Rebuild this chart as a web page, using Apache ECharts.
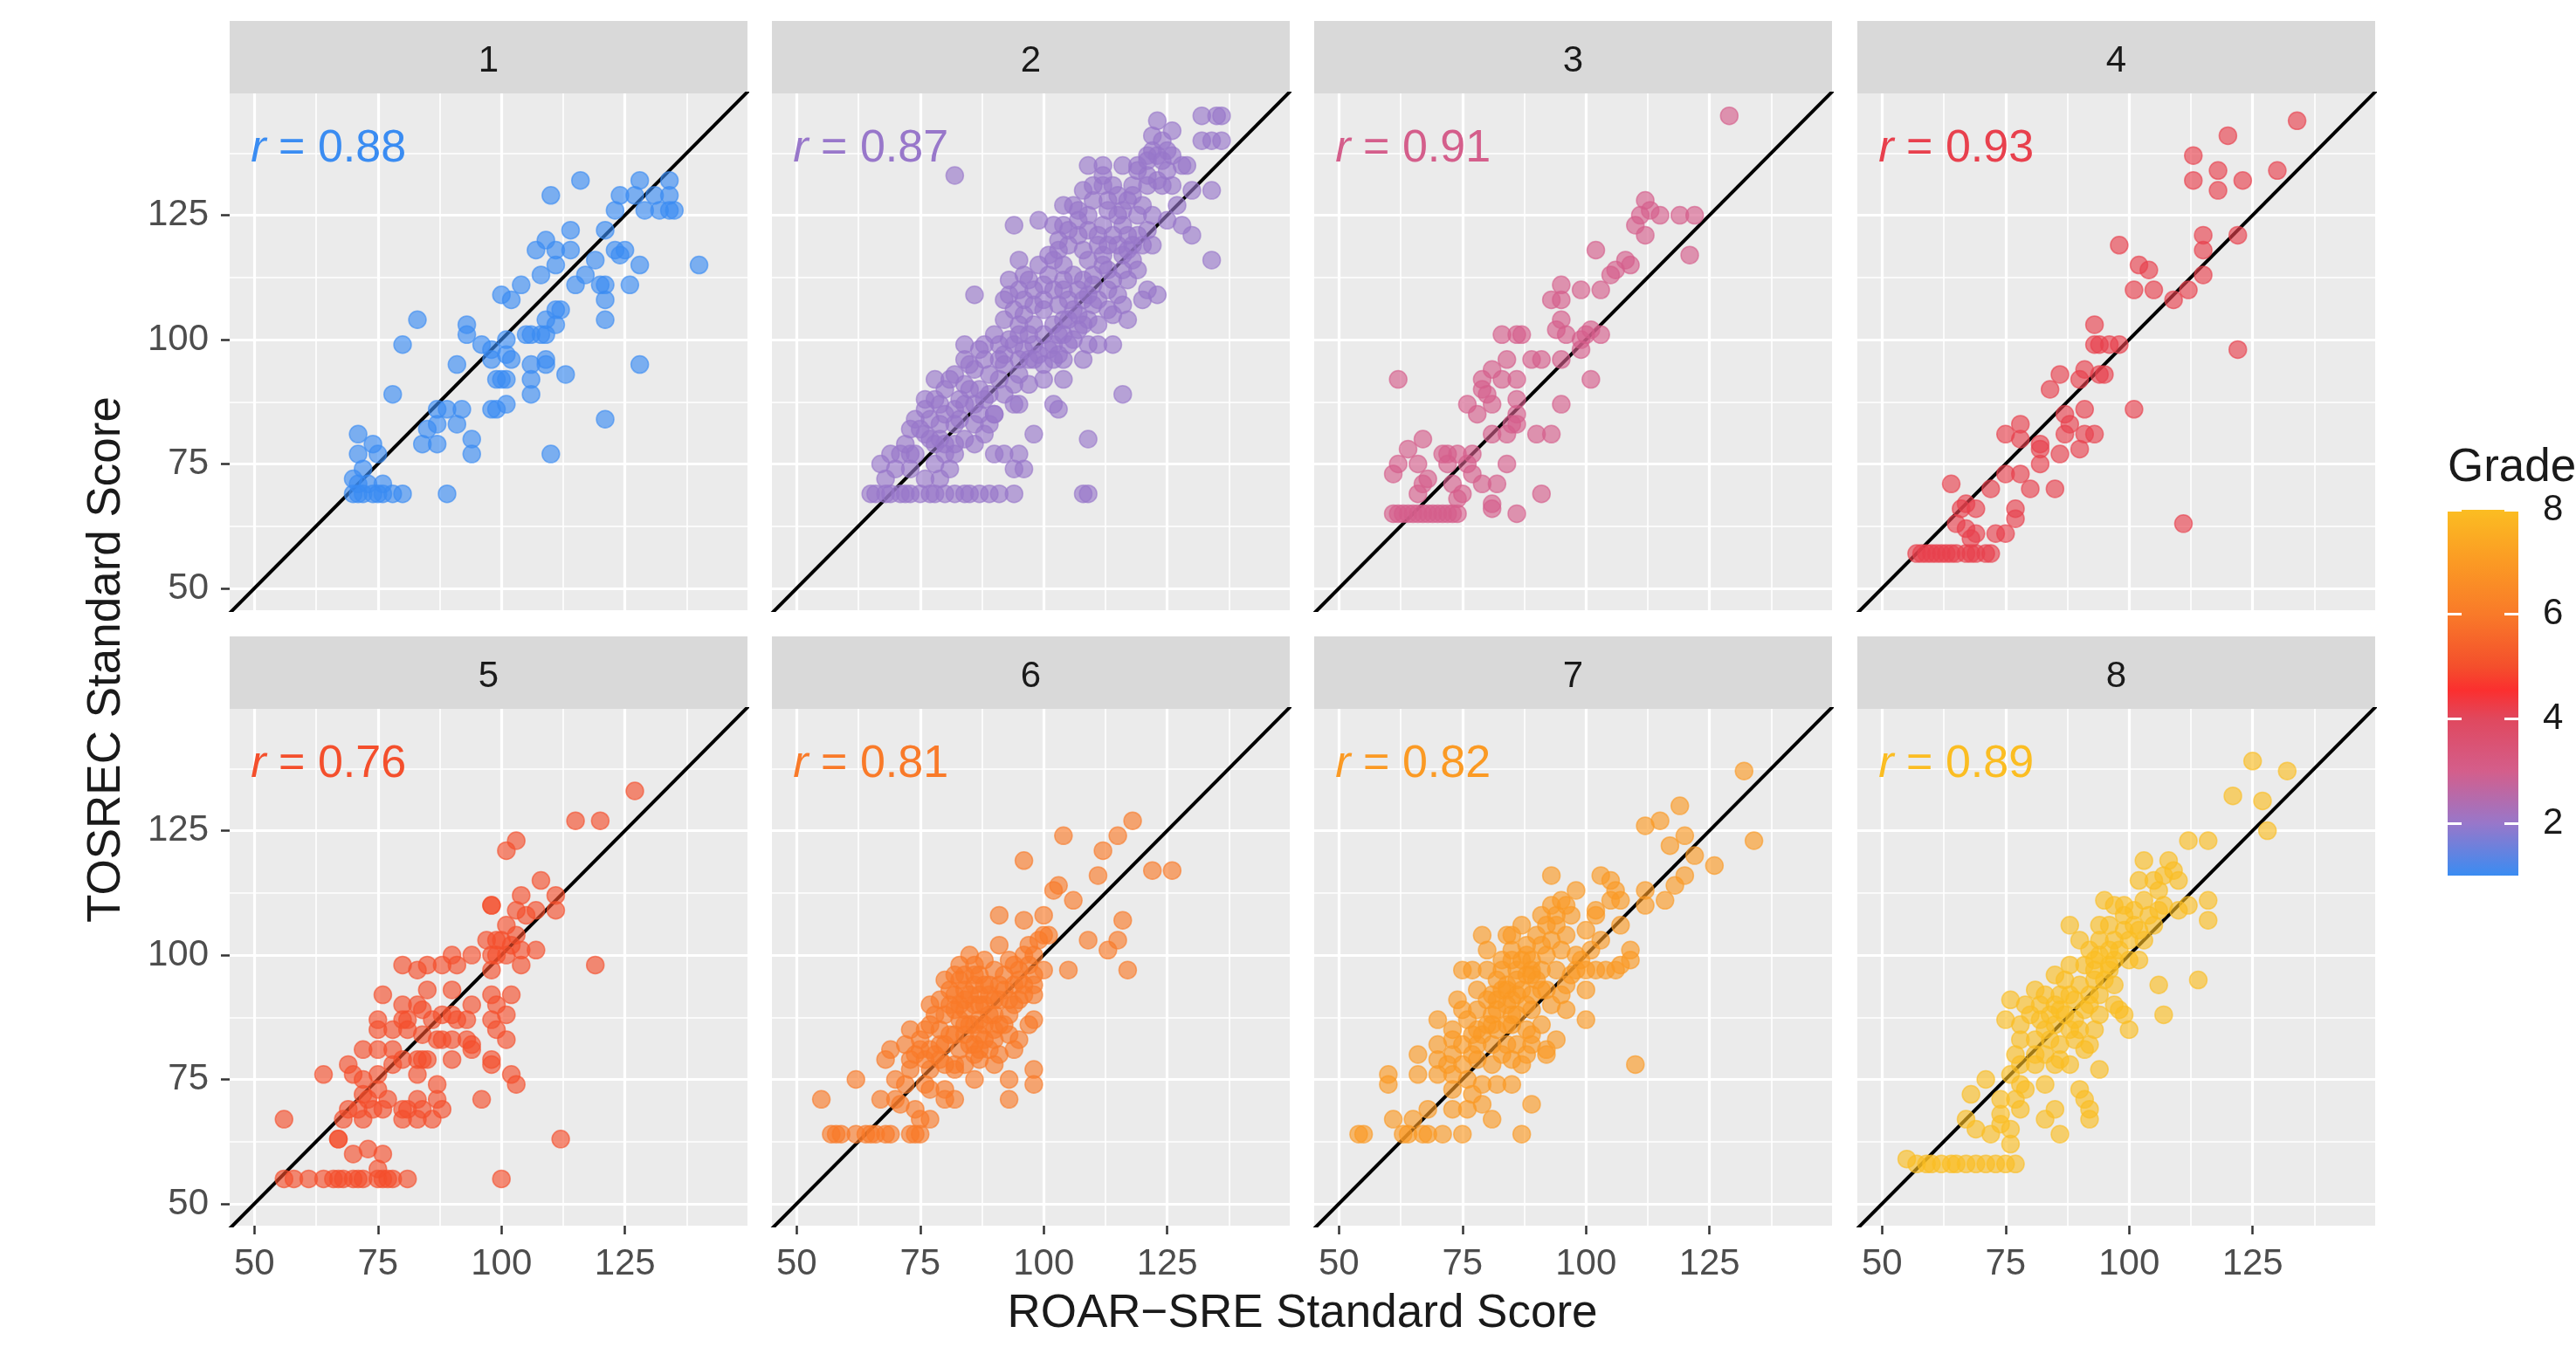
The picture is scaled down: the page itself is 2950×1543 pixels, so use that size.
<!DOCTYPE html>
<html>
<head>
<meta charset="utf-8">
<title>ROAR-SRE vs TOSREC by grade</title>
<script src="https://cdn.jsdelivr.net/npm/echarts@6/dist/echarts.min.js"></script>
<style>
  html, body { margin: 0; padding: 0; background: #fff; }
  #chart { width: 2950px; height: 1543px; }
</style>
</head>
<body>
<div id="chart"></div>
<script>
'use strict';

// ----- Data (ROAR-SRE score, TOSREC score) per grade -----
const grades = [1, 2, 3, 4, 5, 6, 7, 8];
const rValues = ['0.88', '0.87', '0.91', '0.93', '0.76', '0.81', '0.82', '0.89'];

const grade1 = [[116,132],[110,129],[128,132],[134,132],[124,129],[127,129],[131,129],[134,129],[123,126],[129,126],[132,126],[134,126],[135,126],[121,122],[114,122],[109,120],[107,118],[111,118],[114,118],[123,118],[125,118],[124,117],[128,115],[140,115],[119,116],[111,115],[108,113],[115,111],[117,113],[120,111],[121,111],[126,111],[104,111],[100,109],[102,108],[121,108],[111,106],[112,106],[109,104],[111,103],[121,104],[93,103],[83,104],[93,101],[96,99],[98,98],[101,100],[101,97],[102,96],[105,101],[106,101],[108,101],[109,101],[80,99],[91,95],[98,96],[99,92],[100,92],[101,92],[106,95],[109,96],[109,95],[113,93],[128,95],[106,92],[106,89],[78,89],[101,87],[98,86],[99,86],[87,86],[89,86],[92,86],[91,83],[87,83],[85,82],[84,79],[87,79],[94,80],[94,77],[110,77],[121,84],[71,81],[74,79],[71,77],[75,77],[72,74],[71,71],[71,69],[73,71],[76,69],[76,71],[78,69],[80,69],[89,69],[70,69],[72,69],[74,69],[70,72],[75,69]];

const grade2 = [[132,145],[135,145],[136,145],[132,140],[134,140],[136,140],[123,144],[126,142],[122,141],[124,140],[122,138],[121,137],[123,137],[125,138],[82,133],[134,130],[134,116],
  [109,135],[112,135],[116,135],[119,135],[128,135],[129,135],
  [108,130],[112,131],[115,129],[118,129],[121,131],[126,131],[130,130],
  [104,127],[106,127],[109,125],[113,126],[116,126],[119,125],[122,125],
  [94,123],[99,124],[102,123],[104,123],[107,121],[109,122],[112,123],[116,123],[119,121],[128,123],[130,121],
  [120,119],[122,119],[115,119],[112,117],[109,116],[105,119],[103,118],[102,116],[95,116],
  [86,109],[93,112],[97,112],[100,111],[104,110],[107,110],[109,109],[93,109],[96,108],[100,108],[103,107],[105,108],[108,108],[121,110],[123,109],[120,108],[114,112],[117,112],[115,109],[113,106],[116,107],
  [92,104],[95,103],[98,103],[102,103],[105,104],[109,104],[111,103],[117,104],
  [84,99],[88,99],[91,99],[94,99],[98,99],[102,99],[105,99],[109,99],[111,99],[114,99],
  [84,96],[88,96],[91,96],[95,96],[98,96],[102,96],[104,96],[108,96],
  [78,92],[81,92],[84,91],[87,90],[91,92],[94,91],[97,91],[100,92],[104,92],[116,89],
  [78,88],[79,87],[82,86],[84,87],[87,85],[90,85],[94,87],[95,87],[102,87],[103,86],
  [74,84],[79,83],[82,83],[86,83],[89,83],[90,85],
  [73,82],[76,81],[77,80],[80,79],[82,79],[109,80],[98,81],
  [69,77],[71,77],[73,77],[78,79],[80,77],[82,77],[90,77],[92,77],[95,77],
  [67,75],[70,74],[73,74],[78,75],[81,74],[94,74],[96,74],
  [68,72],[76,72],[79,72],
  [65,69],[66,69],[68,69],[69,69],[71,69],[72,69],[73,69],[75,69],[77,69],[78,69],[80,69],[82,69],[84,69],[85,69],[87,69],[89,69],[91,69],[94,69],[108,69],[109,69],
  [100,106],[102,110],[104,104],[106,106],[96,105],[98,110],[94,106],[108,112],[110,113],[112,115],[106,113],[104,115],[97,101],[95,101],[100,101],[103,101],[107,102],[110,107],[113,110],[116,114],[118,116],[113,119],[111,121],[117,121],[115,125],[120,127],[118,131],[123,132],[125,134],[121,133],[113,128],[110,128],[107,124],[92,97],[89,93],[86,94],[85,90],[83,88],[88,88],[92,89],[80,85],[77,84],[76,86],[84,80],[86,79],[88,81],[74,77],[72,79],
  [96,113],[99,115],[101,117],[103,120],[105,122],[107,126],[110,131],[112,133],[114,131],[117,128],[119,134],[121,136],[124,136],[126,137],[124,131],[127,127],[125,124],[121,122],[118,119],[116,117],[113,114],[110,111],[107,105],[104,101],[101,98],[99,97],[96,98],[93,100],[90,101],[87,98],[85,95],[82,93],[80,90],[76,88],[75,82],[79,80],[83,84],[86,87],[89,89],[92,95],[95,93],[97,96],[100,95],[103,97],[106,100],[108,103],[111,108],[114,105],[98,107],[95,110],[92,108],[101,113],[104,112],[108,118],[111,119],[114,121],[117,118],[119,114]];

const grade3 = [[129,145],[112,128],[113,126],[111,125],[115,125],[119,125],[122,125],[110,123],[112,121],[121,117],[102,118],[108,116],[109,115],[106,114],[105,113],[103,110],[99,110],[95,111],[93,108],[95,108],[95,104],[94,102],[96,101],[99,100],[100,101],[101,102],[103,101],[83,101],[86,101],[87,101],[84,96],[89,96],[91,96],[95,96],[99,98],[81,94],[83,92],[86,92],[79,92],[101,92],[62,92],[79,90],[80,89],[76,87],[78,85],[81,87],[86,88],[86,85],[95,87],[81,81],[84,81],[86,83],[85,83],[90,81],[93,81],[67,80],[64,78],[62,75],[61,73],[66,75],[71,77],[72,77],[74,77],[77,77],[72,75],[76,75],[84,75],[77,73],[79,71],[82,71],[67,71],[66,69],[68,72],[73,71],[75,69],[74,68],[91,69],[81,67],[81,66],[86,65],[61,65],[62,65],[63,65],[64,65],[65,65],[66,65],[67,65],[68,65],[69,65],[70,65],[71,65],[72,65],[73,65],[74,65]];

const grade4 = [[134,144],[120,141],[113,137],[118,134],[113,132],[118,130],[123,132],[130,134],[122,121],[115,121],[115,118],[115,113],[112,110],[109,108],[98,119],[102,115],[104,114],[105,110],[101,110],[93,103],[93,99],[94,99],[98,99],[96,99],[122,98],[86,93],[91,94],[94,93],[95,93],[90,92],[84,90],[101,86],[87,85],[91,86],[88,83],[87,81],[91,81],[93,81],[78,83],[75,81],[78,80],[82,79],[82,78],[82,75],[86,77],[90,78],[75,73],[78,73],[72,70],[80,70],[85,70],[64,71],[67,67],[69,66],[66,66],[77,66],[77,64],[65,63],[67,62],[69,61],[73,61],[75,61],[68,60],[111,63],[57,57],[58,57],[59,57],[60,57],[61,57],[62,57],[63,57],[64,57],[65,57],[67,57],[68,57],[69,57],[71,57],[72,57]];

const grade5 = [[127,133],[115,127],[120,127],[103,123],[101,121],[108,115],[111,112],[111,109],[104,112],[103,109],[107,109],[105,108],[98,110],[98,110],[101,106],[103,104],[102,102],[100,103],[97,103],[99,103],[98,100],[99,100],[101,100],[104,101],[107,101],[104,98],[119,98],[90,100],[94,100],[88,98],[91,98],[85,98],[83,97],[80,98],[98,97],[76,92],[85,93],[90,93],[102,92],[94,90],[98,92],[99,90],[101,88],[80,90],[83,90],[84,89],[81,87],[88,88],[90,88],[91,87],[93,87],[86,87],[80,87],[75,87],[75,85],[78,85],[81,85],[84,84],[87,83],[88,83],[90,83],[93,83],[94,82],[98,87],[99,85],[101,83],[72,81],[75,81],[78,81],[80,79],[83,79],[84,79],[85,79],[90,79],[94,81],[98,79],[98,78],[69,78],[70,76],[72,75],[75,76],[78,78],[83,76],[87,74],[102,76],[103,74],[64,76],[72,72],[75,73],[73,71],[77,71],[83,71],[87,71],[96,71],[69,69],[71,69],[74,69],[76,69],[80,69],[81,69],[84,69],[88,69],[83,67],[86,67],[68,67],[72,67],[80,67],[56,67],[67,63],[67,63],[70,60],[73,61],[76,60],[75,57],[112,63],[56,55],[58,55],[61,55],[64,55],[66,55],[67,55],[68,55],[70,55],[71,55],[72,55],[75,55],[76,55],[77,55],[78,55],[81,55],[100,55]];

const grade6 = [[118,127],[115,124],[104,124],[112,121],[96,119],[122,117],[126,117],[111,116],[103,114],[102,113],[106,111],[91,108],[96,107],[100,108],[116,107],[101,104],[109,103],[115,103],[113,101],[98,100],[97,98],[100,97],[105,97],[117,97],[85,100],[88,99],[91,102],[93,99],[95,97],[98,96],[98,94],[98,92],[80,95],[82,96],[84,96],[87,96],[86,94],[89,94],[91,94],[94,94],[96,94],[77,90],[79,91],[82,92],[84,91],[87,92],[90,91],[93,91],[95,91],[82,89],[84,89],[87,87],[90,88],[93,88],[97,86],[98,87],[73,85],[76,85],[79,85],[82,84],[84,84],[87,84],[90,85],[93,84],[95,83],[69,81],[72,82],[75,81],[77,81],[80,82],[83,81],[86,82],[89,81],[91,80],[94,81],[68,79],[73,79],[76,79],[79,79],[82,78],[84,78],[87,79],[90,78],[73,77],[77,77],[82,77],[86,75],[93,75],[98,77],[98,74],[93,71],[62,75],[55,71],[70,75],[72,74],[76,74],[77,73],[80,73],[82,71],[80,71],[67,71],[70,71],[71,70],[74,69],[77,67],[75,67],[57,64],[58,64],[59,64],[62,64],[64,64],[65,64],[66,64],[68,64],[69,64],[73,64],[74,64],[75,64],[84,93],[86,90],[88,90],[89,92],[83,87],[85,86],[88,86],[91,86],[86,80],[88,83],[80,88],[81,90],[78,88],[83,98],[86,98],[90,97],[92,96],[94,98],[96,100],[97,102],[99,103],[100,104],[95,95],[92,93],
  [83,90],[85,92],[87,90],[89,88],[86,86],[84,86],[81,84],[79,82],[78,80],[85,82],[87,81],[90,83],[92,86],[94,90],[96,92],[91,91],[88,94],[86,96],[83,95],[81,93],[77,86],[75,83],[74,80],[80,78]];

const grade7 = [[132,137],[119,130],[115,127],[112,126],[134,123],[120,124],[117,122],[122,120],[126,118],[120,116],[118,114],[116,111],[112,113],[112,110],[93,116],[103,116],[105,115],[106,113],[105,111],[107,111],[98,113],[102,109],[102,108],[107,106],[91,108],[93,110],[95,111],[97,108],[94,106],[96,110],[79,104],[84,104],[85,104],[80,101],[91,102],[93,103],[95,101],[98,100],[92,100],[88,100],[89,99],[109,101],[109,99],[107,98],[106,97],[104,97],[102,97],[100,97],[98,97],[75,97],[77,97],[80,97],[83,97],[86,97],[89,97],[91,97],[94,97],[96,94],[100,93],[78,93],[81,92],[84,93],[86,92],[89,92],[92,93],[80,91],[82,91],[85,91],[88,90],[74,91],[75,89],[78,89],[81,88],[85,88],[89,89],[96,89],[100,87],[70,87],[73,85],[76,87],[78,85],[82,85],[85,86],[88,85],[91,86],[70,82],[73,83],[75,82],[78,82],[81,82],[84,82],[86,82],[89,82],[92,81],[94,83],[66,80],[70,79],[73,80],[75,78],[78,79],[81,78],[85,79],[88,80],[92,80],[110,78],[60,76],[60,74],[66,76],[70,76],[73,76],[76,75],[79,74],[82,74],[85,74],[73,73],[77,72],[68,69],[73,69],[76,69],[79,70],[81,67],[89,70],[61,67],[65,67],[54,64],[55,64],[63,64],[64,64],[67,64],[68,64],[71,64],[75,64],[87,64],[82,95],[84,94],[86,95],[88,96],[83,93],[87,93],[90,95],[85,99],[88,102],[90,104],[87,106],[92,106],[94,108],[96,104],[81,86],[79,84],[83,80],[87,78],[77,80],[72,78],
  [83,99],[85,101],[87,99],[89,96],[91,93],[84,90],[86,88],[82,89],[80,86],[77,84],[84,86],[89,84],[93,90],[95,92],[97,96],[99,99],[101,101],[103,103],[100,105]];

const grade8 = [[125,139],[132,137],[121,132],[127,131],[128,125],[112,123],[116,123],[103,119],[108,119],[102,115],[105,115],[107,116],[109,117],[110,115],[95,111],[97,110],[99,110],[101,109],[103,111],[106,113],[107,110],[110,109],[112,110],[116,111],[116,107],[88,106],[94,106],[96,106],[99,108],[101,106],[103,103],[94,103],[97,103],[90,103],[92,101],[94,100],[97,99],[100,99],[102,99],[88,98],[91,98],[93,97],[96,98],[85,96],[87,95],[90,94],[93,95],[96,97],[106,94],[114,95],[81,93],[83,92],[86,92],[88,92],[92,92],[94,92],[97,90],[98,89],[76,91],[79,90],[82,90],[85,90],[89,91],[92,90],[94,88],[75,87],[78,86],[82,87],[85,86],[88,85],[90,85],[93,85],[99,88],[100,85],[107,88],[78,83],[81,83],[84,83],[86,82],[89,83],[92,82],[81,80],[83,80],[86,79],[77,80],[78,78],[81,78],[85,78],[88,78],[94,77],[91,81],[71,75],[76,76],[78,74],[79,73],[83,74],[90,73],[91,71],[92,69],[68,72],[74,71],[77,71],[78,69],[85,69],[92,67],[83,67],[86,64],[67,67],[74,68],[74,66],[69,65],[72,64],[76,65],[76,62],[55,59],[57,58],[59,58],[60,58],[62,58],[64,58],[65,58],[67,58],[69,58],[71,58],[73,58],[75,58],[77,58],[80,88],[83,85],[84,88],[87,88],[89,87],[91,89],[95,95],[97,94],[98,101],[100,103],[102,105],[104,108],[105,106],[106,109],[99,105],[96,101],[93,99],[86,89]];

const panels = [grade1, grade2, grade3, grade4, grade5, grade6, grade7, grade8];

// axis breaks
const majorTicks = [50, 75, 100, 125];
const minorTicks = [62.5, 87.5, 112.5, 137.5];
const legendTicks = [2, 4, 6, 8];
const identityLine = [[0, 0], [200, 200]];

// ----- Styles / layout -----
const gradeColors = ['#3a8cf2', '#9877ca', '#d45e8b', '#e8404d', '#f44f2c', '#f97a29', '#fb9a24', '#fbbd22'];
const FONT = '"Liberation Sans", Arial, Helvetica, sans-serif';
const COL_X = [263, 884, 1505, 2127];
const ROW_Y = [107, 812];
const PANEL_W = 593, PANEL_H = 592, STRIP_H = 83;
const X_RANGE = [45, 149.8], Y_RANGE = [45.6, 149.5];
const R_LABEL_AT = [49.3, 138.4];

const grids = [], xAxes = [], yAxes = [], series = [], graphics = [];

const minorLine = { color: '#ffffff', width: 1.6, type: 'solid' };
const majorLine = { color: '#ffffff', width: 3.2, type: 'solid' };
const gridLines = [];
minorTicks.forEach(v => { gridLines.push({ xAxis: v, lineStyle: minorLine }, { yAxis: v, lineStyle: minorLine }); });
majorTicks.forEach(v => { gridLines.push({ xAxis: v, lineStyle: majorLine }, { yAxis: v, lineStyle: majorLine }); });

const tickStyle = { color: '#333333', width: 2.5 };
const tickLabel = { fontSize: 42, color: '#4d4d4d', fontFamily: FONT };

panels.forEach((pts, i) => {
  const col = i % 4, row = Math.floor(i / 4);
  const color = gradeColors[i];
  grids.push({
    left: COL_X[col], top: ROW_Y[row], width: PANEL_W, height: PANEL_H,
    show: true, backgroundColor: '#ebebeb', borderWidth: 0
  });
  xAxes.push({
    gridIndex: i, type: 'value', min: X_RANGE[0], max: X_RANGE[1],
    axisLine: { show: false }, splitLine: { show: false },
    axisTick: { show: row === 1, customValues: majorTicks, length: 10, lineStyle: tickStyle },
    axisLabel: Object.assign({ show: row === 1, customValues: majorTicks, margin: 23 }, tickLabel)
  });
  yAxes.push({
    gridIndex: i, type: 'value', min: Y_RANGE[0], max: Y_RANGE[1],
    axisLine: { show: false }, splitLine: { show: false },
    axisTick: { show: col === 0, customValues: majorTicks, length: 10, lineStyle: tickStyle },
    axisLabel: Object.assign({ show: col === 0, customValues: majorTicks, margin: 24 }, tickLabel)
  });

  // panel grid lines (kept under the marks)
  series.push({
    type: 'line', xAxisIndex: i, yAxisIndex: i, data: [], z: 1, silent: true,
    markLine: {
      z: 1, silent: true, symbol: ['none', 'none'], animation: false,
      label: { show: false }, emphasis: { disabled: true },
      lineStyle: { type: 'solid' },
      data: gridLines
    }
  });
  // y = x reference line
  series.push({
    type: 'line', xAxisIndex: i, yAxisIndex: i, data: identityLine, z: 2,
    symbol: 'none', silent: true, clip: true,
    lineStyle: { color: '#000000', width: 4, type: 'solid' }
  });
  // points
  series.push({
    name: 'Grade ' + grades[i], type: 'scatter', xAxisIndex: i, yAxisIndex: i, z: 3,
    data: pts, symbolSize: 20, silent: true,
    itemStyle: { color: color, opacity: 0.64, borderColor: color, borderWidth: 1.5 }
  });
  // correlation label
  series.push({
    type: 'scatter', xAxisIndex: i, yAxisIndex: i, z: 4, silent: true,
    data: [R_LABEL_AT], symbolSize: 0,
    itemStyle: { opacity: 1 },
    label: {
      show: true, position: 'right', distance: 0, align: 'left', verticalAlign: 'middle',
      formatter: '{r|r} = ' + rValues[i],
      fontSize: 52, color: color, fontFamily: FONT,
      rich: { r: { fontSize: 52, fontStyle: 'italic', color: color, fontFamily: FONT } }
    }
  });

  // facet strip
  graphics.push({
    type: 'rect', left: COL_X[col], top: ROW_Y[row] - STRIP_H, silent: true,
    shape: { width: PANEL_W, height: STRIP_H }, style: { fill: '#d9d9d9' }
  });
  graphics.push({
    type: 'text', x: COL_X[col] + PANEL_W / 2, y: ROW_Y[row] - STRIP_H / 2 + 5, silent: true,
    style: { text: String(grades[i]), fill: '#1a1a1a', fontSize: 42, fontFamily: FONT, align: 'center', verticalAlign: 'middle' }
  });
});

// ----- colour bar legend -----
const CB = { left: 2803, top: 584, width: 81, height: 419 };
const cbIndex = grids.length;
grids.push({
  left: CB.left, top: CB.top, width: CB.width, height: CB.height, show: true, borderWidth: 0,
  backgroundColor: new echarts.graphic.LinearGradient(0, 1, 0, 0, [
    { offset: 0, color: gradeColors[0] },
    { offset: 1 / 7, color: gradeColors[1] },
    { offset: 2 / 7, color: gradeColors[2] },
    { offset: 3 / 7, color: '#e0485e' },
    { offset: 3.55 / 7, color: '#fb2f2f' },
    { offset: 4 / 7, color: gradeColors[4] },
    { offset: 5 / 7, color: gradeColors[5] },
    { offset: 6 / 7, color: gradeColors[6] },
    { offset: 1, color: gradeColors[7] }
  ])
});
xAxes.push({ gridIndex: cbIndex, type: 'value', min: 0, max: 1, show: false });
const cbTick = { show: true, inside: true, length: 16, customValues: legendTicks, lineStyle: { color: '#ffffff', width: 3 } };
yAxes.push({
  gridIndex: cbIndex, type: 'value', min: 1, max: 8, position: 'left',
  axisLine: { show: false }, splitLine: { show: false }, axisLabel: { show: false }, axisTick: cbTick
});
yAxes.push({
  gridIndex: cbIndex, type: 'value', min: 1, max: 8, position: 'right',
  axisLine: { show: false }, splitLine: { show: false }, axisTick: cbTick,
  axisLabel: { show: true, customValues: legendTicks, margin: 28, fontSize: 42, color: '#1a1a1a', fontFamily: FONT }
});

// ----- titles -----
graphics.push({
  type: 'text', x: 2803, y: 536, silent: true,
  style: { text: 'Grade', fill: '#1a1a1a', fontSize: 53, fontFamily: FONT, align: 'left', verticalAlign: 'middle' }
});
graphics.push({
  type: 'text', x: (COL_X[0] + COL_X[3] + PANEL_W) / 2, y: 1505, silent: true,
  style: { text: 'ROAR\u2212SRE Standard Score', fill: '#1a1a1a', fontSize: 53, fontFamily: FONT, align: 'center', verticalAlign: 'middle' }
});
graphics.push({
  type: 'text', x: 122, y: (ROW_Y[0] + ROW_Y[1] + PANEL_H) / 2, rotation: Math.PI / 2, silent: true,
  style: { text: 'TOSREC Standard Score', fill: '#1a1a1a', fontSize: 53, fontFamily: FONT, align: 'center', verticalAlign: 'middle' }
});

const chart = echarts.init(document.getElementById('chart'), null, { renderer: 'canvas' });
chart.setOption({
  backgroundColor: '#ffffff',
  animation: false,
  grid: grids,
  xAxis: xAxes,
  yAxis: yAxes,
  series: series,
  graphic: graphics
});
</script>
</body>
</html>
